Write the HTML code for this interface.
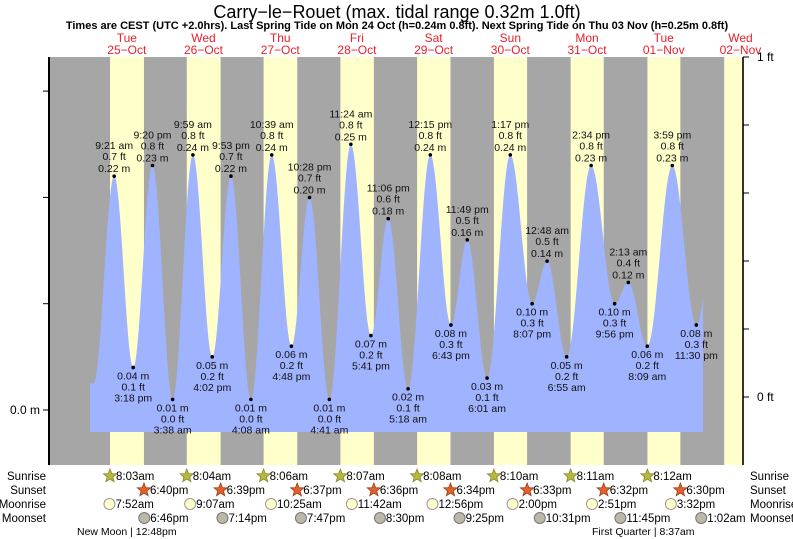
<!DOCTYPE html>
<html><head><meta charset="utf-8"><style>
body{margin:0;background:#fff;}
svg{display:block;font-family:"Liberation Sans",sans-serif;}
</style></head><body>
<svg id="chart" width="793" height="539" viewBox="0 0 793 539" xmlns="http://www.w3.org/2000/svg">
<text x="397" y="18" text-anchor="middle" font-size="18">Carry−le−Rouet (max. tidal range 0.32m 1.0ft)</text>
<text x="397" y="29" text-anchor="middle" font-size="11" font-weight="bold">Times are CEST (UTC +2.0hrs). Last Spring Tide on Mon 24 Oct (h=0.24m 0.8ft). Next Spring Tide on Thu 03 Nov (h=0.25m 0.8ft)</text>
<g id="bands"></g>
<g id="tide"></g>
<g id="axes"></g>
<g id="labels"></g>
<g id="astro"></g>
</svg>
<script>
// ---- data ----
const dayNames = ["Tue","Wed","Thu","Fri","Sat","Sun","Mon","Tue","Wed"];
const dayDates = ["25−Oct","26−Oct","27−Oct","28−Oct","29−Oct","30−Oct","31−Oct","01−Nov","02−Nov"];
const tideHours = [2.9,9.35,15.3,21.33,27.63,33.98,40.03,45.88,52.13,58.65,64.8,70.47,76.68,83.4,89.68,95.1,101.3,108.25,114.72,119.82,126.02,133.28,140.12,144.8,150.92,158.57,165.93,170.22,176.15,183.98,191.5,197];
const tideHeights = [0.025,0.22,0.04,0.23,0.01,0.24,0.05,0.22,0.01,0.24,0.06,0.20,0.01,0.25,0.07,0.18,0.02,0.24,0.08,0.16,0.03,0.24,0.10,0.14,0.05,0.23,0.10,0.12,0.06,0.23,0.08,0.16];
const tideTimes = ["","9:21 am","3:18 pm","9:20 pm","3:38 am","9:59 am","4:02 pm","9:53 pm","4:08 am","10:39 am","4:48 pm","10:28 pm","4:41 am","11:24 am","5:41 pm","11:06 pm","5:18 am","12:15 pm","6:43 pm","11:49 pm","6:01 am","1:17 pm","8:07 pm","12:48 am","6:55 am","2:34 pm","9:56 pm","2:13 am","8:09 am","3:59 pm","11:30 pm",""];
const tideFt = ["","0.7 ft","0.1 ft","0.8 ft","0.0 ft","0.8 ft","0.2 ft","0.7 ft","0.0 ft","0.8 ft","0.2 ft","0.7 ft","0.0 ft","0.8 ft","0.2 ft","0.6 ft","0.1 ft","0.8 ft","0.3 ft","0.5 ft","0.1 ft","0.8 ft","0.3 ft","0.5 ft","0.2 ft","0.8 ft","0.3 ft","0.4 ft","0.2 ft","0.8 ft","0.3 ft",""];
const sunriseH = [8.05,8.07,8.1,8.12,8.13,8.17,8.18,8.2,8.22];
const sunriseT = ["8:03am","8:04am","8:06am","8:07am","8:08am","8:10am","8:11am","8:12am"];
const sunsetH = [18.67,18.65,18.62,18.6,18.57,18.55,18.53,18.5,18.48];
const sunsetT = ["6:40pm","6:39pm","6:37pm","6:36pm","6:34pm","6:33pm","6:32pm","6:30pm"];
const moonriseH = [7.87,9.12,10.42,11.7,12.93,14.0,14.85,15.53];
const moonriseT = ["7:52am","9:07am","10:25am","11:42am","12:56pm","2:00pm","2:51pm","3:32pm"];
const moonsetH = [18.77,19.23,19.78,20.5,21.42,22.52,23.75,25.03];
const moonsetT = ["6:46pm","7:14pm","7:47pm","8:30pm","9:25pm","10:31pm","11:45pm","1:02am"];

// ---- scales ----
const X0=84.3, PXH=3.196, LEFT=50, RIGHT=743, TOP=57, BOT=465;
const xs = h => X0 + h*PXH;
const ys = m => 410 - m*1063;
const NS="http://www.w3.org/2000/svg";
function mk(tag, attrs, parent, txt){const e=document.createElementNS(NS,tag);for(const k in attrs)e.setAttribute(k,attrs[k]);if(txt!==undefined)e.textContent=txt;parent.appendChild(e);return e;}

const bands=document.getElementById('bands');
const bg=mk('rect',{x:LEFT,y:TOP,width:RIGHT-LEFT,height:BOT-TOP,fill:'#a6a6a6'},bands);


dayNames.forEach((d,i)=>{
  const x1=xs(i*24+sunriseH[i]), x2=Math.min(RIGHT, xs(i*24+sunsetH[i]));
  const r=mk('rect',{x:x1,y:TOP,width:Math.max(0,x2-x1),height:BOT-TOP,fill:'#ffffcc'},bands);
  
  
  const cx=xs(i*24+13.3);
  const t1=mk('text',{x:cx,y:42,'text-anchor':'middle','font-size':12,fill:'#e8202a'},bands,d);
  
  
  const t2=mk('text',{x:cx,y:54,'text-anchor':'middle','font-size':12,fill:'#e8202a'},bands,dayDates[i]);
  
  
});

// tide curve (cosine between extremes)
const tide=document.getElementById('tide');
const xStart=90, xEnd=703, yBase=432;
let d=`M${xStart},${yBase}`;
for(let x=xStart;x<=xEnd;x+=1){
  const h=(x-X0)/PXH;
  let i=0; while(i<tideHours.length-2 && tideHours[i+1]<h) i++;
  const h0=tideHours[i],h1=tideHours[i+1];
  let t=(h-h0)/(h1-h0); t=Math.max(0,Math.min(1,t));
  const v=tideHeights[i]+(tideHeights[i+1]-tideHeights[i])*(1-Math.cos(Math.PI*t))/2;
  d+=` L${x},${ys(v).toFixed(1)}`;
}
d+=` L${xEnd},${yBase} Z`;
const area=mk('path',{d:d,fill:'#9fb3ff'},tide);



// axes
const ax=document.getElementById('axes');
const la=mk('line',{x1:49,y1:TOP,x2:49,y2:BOT,stroke:'#000','stroke-width':2},ax);


const ra=mk('line',{x1:743,y1:TOP,x2:743,y2:BOT,stroke:'#333','stroke-width':2},ax);


[0,0.1,0.2,0.3].forEach(m=>{mk('line',{x1:43,y1:ys(m),x2:49,y2:ys(m),stroke:'#000'},ax);});
const l0=mk('text',{x:40,y:414,'text-anchor':'end','font-size':12},ax,'0.0 m');


for(let k=0;k<=5;k++){const y=397-k*68;mk('line',{x1:743,y1:y,x2:749,y2:y,stroke:'#000'},ax);}
const r0=mk('text',{x:757,y:401,'font-size':12},ax,'0 ft');


const r1=mk('text',{x:757,y:61,'font-size':12},ax,'1 ft');



// extreme labels
const lab=document.getElementById('labels');
tideHours.forEach((h,i)=>{
  if(!tideTimes[i]) return;
  const x=xs(h), y=ys(tideHeights[i]);
  const high = (i>0 && tideHeights[i]>tideHeights[i-1]);
  const dot=mk('circle',{cx:x,cy:y,r:1.8,fill:'#000'},lab);
  
  
  const g=mk('g',{'font-size':10.5,'text-anchor':'middle',fill:'#111'},lab);
  
  
  const m=tideHeights[i].toFixed(2)+' m';
  if(high){
    mk('text',{x:x,y:y-27},g,tideTimes[i]);
    mk('text',{x:x,y:y-16},g,tideFt[i]);
    mk('text',{x:x,y:y-4},g,m);
  } else {
    mk('text',{x:x,y:y+12},g,m);
    mk('text',{x:x,y:y+23},g,tideFt[i]);
    mk('text',{x:x,y:y+34},g,tideTimes[i]);
  }
});

// astro rows
const as=document.getElementById('astro');
const rows=[["Sunrise",480],["Sunset",494],["Moonrise",508],["Moonset",522]];
rows.forEach(([n,y])=>{
  const a=mk('text',{x:46,y:y,'text-anchor':'end','font-size':11.5},as,n);
  
  
  const b=mk('text',{x:750,y:y,'font-size':11.5},as,n);
  
  
});
function star(cx,cy,fill,stroke){
  let p='';for(let k=0;k<10;k++){const r=k%2?3:7;const a=-Math.PI/2+k*Math.PI/5;p+=(cx+r*Math.cos(a)).toFixed(1)+','+(cy+r*Math.sin(a)).toFixed(1)+' ';}
  return mk('polygon',{points:p,fill:fill,stroke:stroke,'stroke-width':0.8},as);
}
function entry(x,y,txt,kind){
  let ic;
  if(kind==='sunrise') ic=star(x,y-4,'#b8b83a','#888833');
  else if(kind==='sunset') ic=star(x,y-4,'#e0622a','#a03a18');
  else if(kind==='moonrise') ic=mk('circle',{cx:x,cy:y-4,r:5.5,fill:'#ffffcc',stroke:'#999'},as);
  else ic=mk('circle',{cx:x,cy:y-4,r:5.5,fill:'#bbb8aa',stroke:'#777'},as);
  
  
  const t=mk('text',{x:x+6,y:y,'font-size':11.5},as,txt);
  
  
}
sunriseT.forEach((t,i)=>entry(xs(i*24+sunriseH[i]),480,t,'sunrise'));
sunsetT.forEach((t,i)=>entry(xs(i*24+sunsetH[i]),494,t,'sunset'));
moonriseT.forEach((t,i)=>entry(xs(i*24+moonriseH[i]),508,t,'moonrise'));
moonsetT.forEach((t,i)=>entry(xs(i*24+moonsetH[i]),522,t,'moonset'));
const p1=mk('text',{x:77,y:535,'font-size':10.5},as,'New Moon | 12:48pm');


const p2=mk('text',{x:592,y:535,'font-size':10.5},as,'First Quarter | 8:37am');


</script>
</body></html>
